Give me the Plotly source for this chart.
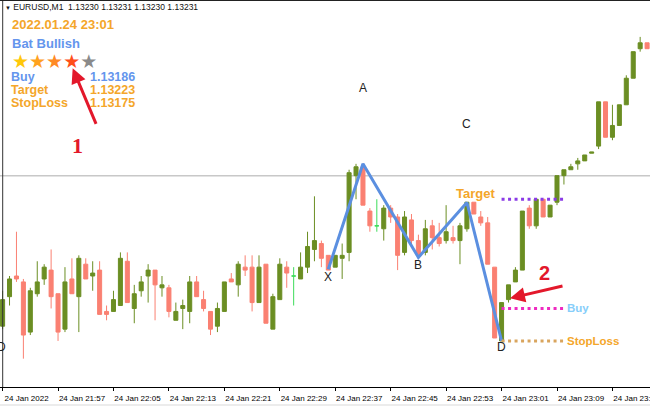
import plotly.graph_objects as go
import pandas as pd

# ---------------- data ----------------
times = pd.date_range("2022-01-24 21:49", periods=94, freq="min")

tick_times = times[::8]
tick_labels = ["24 Jan 2022", "24 Jan 21:57", "24 Jan 22:05", "24 Jan 22:13",
               "24 Jan 22:21", "24 Jan 22:29", "24 Jan 22:37", "24 Jan 22:45",
               "24 Jan 22:53", "24 Jan 23:01", "24 Jan 23:09", "24 Jan 23:17"]

opens = [1.13180, 1.13190, 1.13197, 1.13195, 1.13178, 1.13191, 1.13196, 1.13199, 1.13191, 1.13179,
         1.13196, 1.13190, 1.13201, 1.13197, 1.13199, 1.13185, 1.13185, 1.13187, 1.13202, 1.13186,
         1.13192, 1.13197, 1.13199, 1.13193, 1.13193, 1.13182, 1.13186, 1.13185, 1.13195, 1.13189,
         1.13185, 1.13180, 1.13185, 1.13196, 1.13194, 1.13200, 1.13200, 1.13188, 1.13201, 1.13179,
         1.13189, 1.13200, 1.13197, 1.13196, 1.13200, 1.13206, 1.13208, 1.13204, 1.13200, 1.13203,
         1.13205, 1.13231, 1.13234, 1.13219, 1.13214, 1.13213, 1.13220, 1.13217, 1.13205, 1.13216,
         1.13209, 1.13205, 1.13214, 1.13210, 1.13209, 1.13210, 1.13209, 1.13213, 1.13222, 1.13217,
         1.13215, 1.13200, 1.13175, 1.13189, 1.13195, 1.13199, 1.13220, 1.13214, 1.13223, 1.13217,
         1.13222, 1.13231, 1.13233, 1.13235, 1.13236, 1.132386, 1.13241, 1.13256, 1.13244, 1.13248,
         1.13255, 1.13264, 1.13274, 1.13276]
highs = [1.13192, 1.13197, 1.13212, 1.13196, 1.13193, 1.13202, 1.13201, 1.13206, 1.13191, 1.13200,
         1.13203, 1.13204, 1.13203, 1.13202, 1.13202, 1.13187, 1.13192, 1.13205, 1.13205, 1.13194,
         1.13197, 1.13201, 1.13199, 1.13197, 1.13194, 1.13188, 1.13189, 1.13197, 1.13197, 1.13192,
         1.13185, 1.13188, 1.13195, 1.13198, 1.13202, 1.13204, 1.13204, 1.13204, 1.13201, 1.13191,
         1.13203, 1.13202, 1.13200, 1.13205, 1.13212, 1.13224, 1.13209, 1.13204, 1.13204, 1.13208,
         1.13233, 1.13235, 1.13235, 1.13220, 1.13223, 1.13221, 1.13221, 1.13218, 1.13219, 1.13218,
         1.13211, 1.13216, 1.13216, 1.13215, 1.13221, 1.13214, 1.13215, 1.13222, 1.13222, 1.13219,
         1.13217, 1.13200, 1.13188, 1.13194, 1.13200, 1.13219, 1.13221, 1.13223, 1.13223, 1.13221,
         1.13231, 1.13233, 1.13235, 1.13237, 1.13238, 1.13239, 1.13256, 1.13256, 1.13255, 1.13255,
         1.13265, 1.13273, 1.13278, 1.13276]
lows = [1.13179, 1.13187, 1.13195, 1.13169, 1.13177, 1.13190, 1.13194, 1.13186, 1.13175, 1.13178,
        1.13191, 1.13178, 1.13196, 1.13192, 1.13184, 1.13182, 1.13185, 1.13187, 1.13188, 1.13181,
        1.13190, 1.13188, 1.13182, 1.13190, 1.13183, 1.13182, 1.13179, 1.13181, 1.13190, 1.13185,
        1.13177, 1.13178, 1.13185, 1.13195, 1.13190, 1.13197, 1.13185, 1.13188, 1.13181, 1.13179,
        1.13189, 1.13193, 1.13187, 1.13196, 1.13198, 1.13202, 1.13200, 1.13199, 1.13200, 1.13196,
        1.13202, 1.13223, 1.13221, 1.13212, 1.13212, 1.13209, 1.13215, 1.13199, 1.13204, 1.13207,
        1.13203, 1.13204, 1.13206, 1.13207, 1.13208, 1.13208, 1.13201, 1.13212, 1.13218, 1.13214,
        1.13201, 1.13176, 1.13175, 1.13188, 1.13195, 1.13199, 1.13213, 1.13213, 1.13217, 1.13217,
        1.13221, 1.13228, 1.13233, 1.13233, 1.13236, 1.132386, 1.13240, 1.13244, 1.13243, 1.13248,
        1.13255, 1.13264, 1.13273, 1.13274]
closes = [1.13189, 1.13196, 1.13196, 1.13177, 1.13192, 1.13195, 1.13200, 1.13190, 1.13178, 1.13195,
          1.13191, 1.13203, 1.13196, 1.13198, 1.13184, 1.13184, 1.13189, 1.13203, 1.13188, 1.13191,
          1.13195, 1.13199, 1.13194, 1.13194, 1.13185, 1.13185, 1.13187, 1.13195, 1.13190, 1.13186,
          1.13179, 1.13186, 1.13195, 1.13195, 1.13201, 1.13199, 1.13188, 1.13200, 1.13181, 1.13190,
          1.13201, 1.13198, 1.13197, 1.13200, 1.13207, 1.13209, 1.13203, 1.13199, 1.13204, 1.13204,
          1.13232, 1.13234, 1.13221, 1.13214, 1.13214, 1.13220, 1.13217, 1.13204, 1.13217, 1.13209,
          1.13204, 1.13213, 1.13210, 1.13208, 1.13212, 1.13209, 1.13214, 1.13222, 1.13218, 1.13215,
          1.13201, 1.13176, 1.13188, 1.13194, 1.13199, 1.13219, 1.13214, 1.13223, 1.13217, 1.13221,
          1.13231, 1.13233, 1.13234, 1.13236, 1.13238, 1.13239, 1.13256, 1.13244, 1.13248, 1.13255,
          1.13264, 1.13273, 1.13276, 1.13274]

# harmonic pattern points
pattern_labels = ["X", "A", "B", "C", "D"]
pattern_times = ["2022-01-24 22:36", "2022-01-24 22:41", "2022-01-24 22:49",
                 "2022-01-24 22:56", "2022-01-24 23:01"]
pattern_prices = [1.131993, 1.13235, 1.132033, 1.132219, 1.13175]
label_prices = [1.131967, 1.132607, 1.132007, 1.132485, 1.13173]

buy_price = 1.13186
target_price = 1.13223
stop_price = 1.13175
bid_price = 1.13231
level_start = "2022-01-24 23:01"
level_end = "2022-01-24 23:10"

# ---------------- styling ----------------
OLIVE = "#6b8e23"
SALMON = "#fa8072"
DOJI = "#3ddc5a"
BLUE = "#5b8fe0"
ORANGE = "#f4a62a"
TXTBLUE = "#6495ed"
RED = "#e3182b"
W, H = 650, 409
PH = 387  # plot height in px

def px(xp):
    return xp / W

def py(yp):
    return 1 - yp / PH

is_doji = [o == c for o, c in zip(opens, closes)]
idx_n = [i for i, d in enumerate(is_doji) if not d]
idx_d = [i for i, d in enumerate(is_doji) if d]

fig = go.Figure()
fig.add_trace(go.Candlestick(
    x=[times[i] for i in idx_n], open=[opens[i] for i in idx_n], high=[highs[i] for i in idx_n],
    low=[lows[i] for i in idx_n], close=[closes[i] for i in idx_n],
    increasing=dict(line=dict(color=OLIVE, width=1), fillcolor=OLIVE),
    decreasing=dict(line=dict(color=SALMON, width=1), fillcolor=SALMON),
    whiskerwidth=0, hoverinfo="skip", showlegend=False))
fig.add_trace(go.Candlestick(
    x=[times[i] for i in idx_d], open=[opens[i] for i in idx_d], high=[highs[i] for i in idx_d],
    low=[lows[i] for i in idx_d], close=[closes[i] for i in idx_d],
    increasing=dict(line=dict(color=DOJI, width=1), fillcolor=DOJI),
    decreasing=dict(line=dict(color=DOJI, width=1), fillcolor=DOJI),
    whiskerwidth=0, hoverinfo="skip", showlegend=False))

# zigzag
fig.add_trace(go.Scatter(x=pattern_times, y=pattern_prices, mode="lines",
                         line=dict(color=BLUE, width=3), hoverinfo="skip", showlegend=False))

# level lines
for price, col in [(target_price, "#8a3be6"), (buy_price, "#ee2ac0"), (stop_price, "#d9a55e")]:
    fig.add_trace(go.Scatter(x=[level_start, level_end], y=[price, price], mode="lines",
                             line=dict(color=col, width=3, dash="3px,3.5px"),
                             hoverinfo="skip", showlegend=False))

shapes = [
    dict(type="line", xref="paper", yref="y", x0=0, x1=1, y0=bid_price, y1=bid_price,
         line=dict(color="#c8c8c8", width=1.5), layer="below"),
    dict(type="line", xref="paper", yref="paper", x0=px(2.7), x1=px(2.7), y0=0, y1=1,
         line=dict(color="#333333", width=1)),
    dict(type="line", xref="paper", yref="paper", x0=0, x1=1, y0=1, y1=1,
         line=dict(color="#222222", width=2)),
    dict(type="line", xref="paper", yref="paper", x0=0, x1=1, y0=py(405), y1=py(405),
         line=dict(color="#d9d9d9", width=1)),
]

ann = []
FONT = "Liberation Sans"
# header
ann.append(dict(xref="paper", yref="paper", x=px(3), y=py(7), xanchor="left", yanchor="middle",
                text='<span style="font-size:6px">▼</span> EURUSD,M1  1.13230 1.13231 1.13230 1.13231',
                showarrow=False, font=dict(family=FONT, size=8.5, color="#111111")))
# info block
ann.append(dict(xref="paper", yref="paper", x=px(10), y=py(25), xanchor="left", yanchor="middle",
                text="<b>2022.01.24 23:01</b>", showarrow=False, font=dict(family=FONT, size=13, color=ORANGE)))
ann.append(dict(xref="paper", yref="paper", x=px(10), y=py(43), xanchor="left", yanchor="middle",
                text="<b>Bat Bullish</b>", showarrow=False, font=dict(family=FONT, size=13, color=TXTBLUE)))
stars = ('<span style="color:#ffc80a">★</span><span style="color:#ffa21e">★</span>'
         '<span style="color:#ff8a24">★</span><span style="color:#ff4e1a">★</span>'
         '<span style="color:#8a8a8a">★</span>')
ann.append(dict(xref="paper", yref="paper", x=px(11), y=py(61), xanchor="left", yanchor="middle",
                text=stars, showarrow=False, borderpad=0, font=dict(family="DejaVu Sans", size=19)))
for label, val, yy, col in [("Buy", "1.13186", 77, TXTBLUE), ("Target", "1.13223", 90, ORANGE),
                            ("StopLoss", "1.13175", 103, ORANGE)]:
    ann.append(dict(xref="paper", yref="paper", x=px(10), y=py(yy), xanchor="left", yanchor="middle",
                    text="<b>%s</b>" % label, showarrow=False, borderpad=0,
                    font=dict(family=FONT, size=12.5, color=col)))
    ann.append(dict(xref="paper", yref="paper", x=px(89), y=py(yy), xanchor="left", yanchor="middle",
                    text="<b>%s</b>" % val, showarrow=False, borderpad=0,
                    font=dict(family=FONT, size=12.5, color=col)))

# pattern labels
for lab, t, p in zip(pattern_labels, pattern_times, label_prices):
    ann.append(dict(x=t, y=p, text=lab, showarrow=False, xanchor="center", yanchor="middle",
                    font=dict(family=FONT, size=12, color="#222222")))
ann.append(dict(xref="paper", yref="paper", x=px(1), y=py(347), text="D", showarrow=False,
                xanchor="center", yanchor="middle", font=dict(family=FONT, size=12, color="#222222")))

# level labels
ann.append(dict(x=level_start, y=target_price, text="<b>Target</b>", showarrow=False,
                xanchor="right", yanchor="middle", xshift=-5, yshift=6,
                font=dict(family=FONT, size=13, color=ORANGE)))
ann.append(dict(x=level_end, y=buy_price, text="<b>Buy</b>", showarrow=False,
                xanchor="left", yanchor="middle", xshift=1,
                font=dict(family=FONT, size=11.5, color="#87cefa")))
ann.append(dict(x=level_end, y=stop_price, text="<b>StopLoss</b>", showarrow=False,
                xanchor="left", yanchor="middle", xshift=1,
                font=dict(family=FONT, size=11.5, color=ORANGE)))

# red markers
ann.append(dict(xref="paper", yref="paper", x=px(77), y=py(145), text="<b>1</b>", showarrow=False,
                xanchor="center", yanchor="middle", font=dict(family="Liberation Serif", size=22, color=RED)))
ann.append(dict(xref="paper", yref="paper", x=px(544), y=py(273), text="<b>2</b>", showarrow=False,
                xanchor="center", yanchor="middle", font=dict(family=FONT, size=20, color=RED)))
ann.append(dict(xref="paper", yref="paper", x=px(72.7), y=py(68.3), ax=24, ay=57, text="",
                showarrow=True, arrowhead=2, arrowsize=1, arrowwidth=3, arrowcolor=RED, standoff=0))
ann.append(dict(xref="paper", yref="paper", x=px(510), y=py(298.3), ax=54, ay=-12.6, text="",
                showarrow=True, arrowhead=2, arrowsize=1, arrowwidth=3, arrowcolor=RED, standoff=0))

x_start = (times[0] - pd.Timedelta(seconds=22.5)).strftime("%Y-%m-%d %H:%M:%S.%f")
x_end = (times[0] - pd.Timedelta(seconds=22.5) + pd.Timedelta(minutes=W / 6.93)).strftime("%Y-%m-%d %H:%M:%S.%f")

fig.update_layout(
    width=W, height=H, margin=dict(l=0, r=0, t=0, b=22),
    paper_bgcolor="white", plot_bgcolor="white", showlegend=False,
    boxgap=0.42, boxgroupgap=0,
    shapes=shapes, annotations=ann,
    xaxis=dict(range=[x_start, x_end], autorange=False, rangeslider=dict(visible=False),
               showgrid=False, zeroline=False,
               tickvals=[t.strftime("%Y-%m-%d %H:%M") for t in tick_times], ticktext=tick_labels,
               ticks="outside", ticklen=3,
               tickcolor="#000000", showline=True, linecolor="#000000", linewidth=1,
               ticklabelshift=24, ticklabeloverflow="allow", automargin=False,
               tickfont=dict(family=FONT, size=8, color="#000000")),
    yaxis=dict(range=[1.131594, 1.132905], autorange=False, visible=False, showgrid=False, fixedrange=True),
)

fig.write_html("out.html", config={"displayModeBar": False},
               post_script="document.body.style.margin='0';document.body.style.padding='0';")
